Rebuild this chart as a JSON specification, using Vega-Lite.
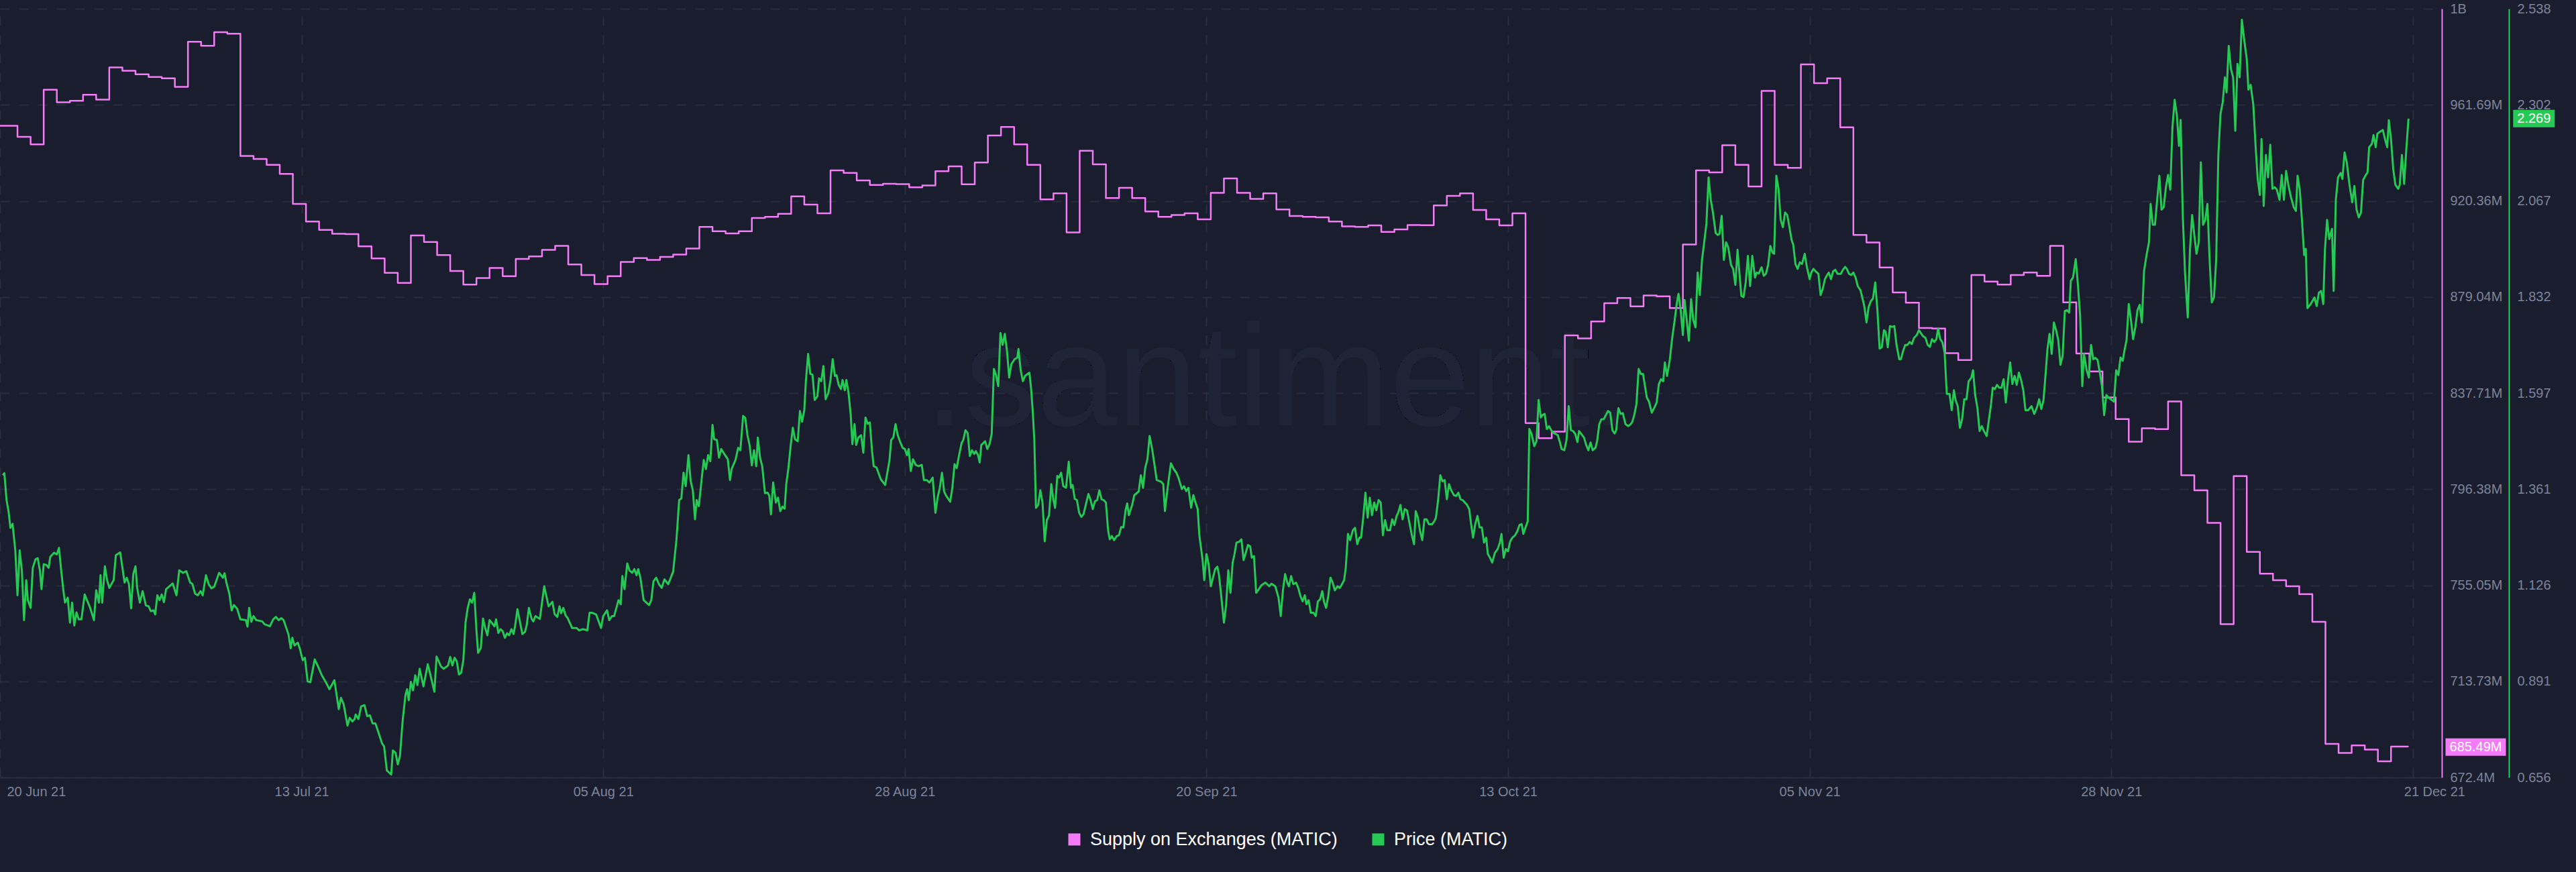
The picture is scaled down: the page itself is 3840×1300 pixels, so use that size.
{
"$schema": "https://vega.github.io/schema/vega-lite/v6.json",
"width": 3640,
"height": 1146,
"autosize": {"type": "none"},
"padding": {"left": 0, "top": 13, "right": 200, "bottom": 141},
"background": "#1a1d2d",
"config": {
  "view": {"stroke": null},
  "axis": {"labelFont": "Liberation Sans", "labelFontSize": 20, "labelColor": "#7b849b", "ticks": false, "title": null, "labelFlush": false, "labelOverlap": false, "labelBound": false}
},
"encoding": {
  "x": {
    "field": "t", "type": "temporal",
    "scale": {"domain": [{"year": 2021, "month": 6, "date": 20}, {"year": 2021, "month": 12, "date": 23, "hours": 5}]},
    "axis": {
      "values": [{"year":2021,"month":6,"date":20},{"year":2021,"month":7,"date":13},{"year":2021,"month":8,"date":5},{"year":2021,"month":8,"date":28},{"year":2021,"month":9,"date":20},{"year":2021,"month":10,"date":13},{"year":2021,"month":11,"date":5},{"year":2021,"month":11,"date":28},{"year":2021,"month":12,"date":21}],
      "format": "%d %b %y",
      "grid": true, "gridColor": "#2a2d40", "gridDash": [14, 14], "gridDashOffset": 17, "gridWidth": 2,
      "domainColor": "#2a2d3f", "domainWidth": 2,
      "labelPadding": 11,
      "labelAlign": {"condition": {"test": "month(datum.value) == 5", "value": "left"}, "value": "center"},
      "labelOffset": {"condition": [{"test": "month(datum.value) == 5", "value": 10}, {"test": "month(datum.value) == 11", "value": 32}], "value": 0}
    }
  }
},
"layer": [
  {
    "data": {"format": {"parse": {"t": "date:'%Y-%m-%d %H'"}}, "values": [
{"t":"2021-06-20 00","s":952.7},{"t":"2021-06-21 08","s":947.9},{"t":"2021-06-22 08","s":944.7},{"t":"2021-06-23 08","s":968.2},{"t":"2021-06-24 08","s":962.8},{"t":"2021-06-25 08","s":963.4},{"t":"2021-06-26 08","s":966.0},{"t":"2021-06-27 08","s":963.9},{"t":"2021-06-28 08","s":977.8},{"t":"2021-06-29 08","s":976.3},
{"t":"2021-06-30 08","s":974.8},{"t":"2021-07-01 08","s":973.7},{"t":"2021-07-02 08","s":973.1},{"t":"2021-07-03 08","s":969.4},{"t":"2021-07-04 08","s":988.8},{"t":"2021-07-05 08","s":987.1},{"t":"2021-07-06 08","s":992.9},{"t":"2021-07-07 08","s":992.3},{"t":"2021-07-08 08","s":939.7},{"t":"2021-07-09 08","s":938.4},
{"t":"2021-07-10 08","s":935.9},{"t":"2021-07-11 08","s":932.0},{"t":"2021-07-12 08","s":919.1},{"t":"2021-07-13 08","s":911.5},{"t":"2021-07-14 08","s":907.9},{"t":"2021-07-15 08","s":906.2},{"t":"2021-07-16 08","s":906.1},{"t":"2021-07-17 08","s":900.8},{"t":"2021-07-18 08","s":895.6},{"t":"2021-07-19 08","s":889.4},
{"t":"2021-07-20 08","s":885.1},{"t":"2021-07-21 08","s":905.5},{"t":"2021-07-22 08","s":902.7},{"t":"2021-07-23 08","s":897.1},{"t":"2021-07-24 08","s":890.2},{"t":"2021-07-25 08","s":884.4},{"t":"2021-07-26 08","s":887.2},{"t":"2021-07-27 08","s":891.5},{"t":"2021-07-28 08","s":888.0},{"t":"2021-07-29 08","s":895.4},
{"t":"2021-07-30 08","s":896.5},{"t":"2021-07-31 08","s":899.3},{"t":"2021-08-01 08","s":901.0},{"t":"2021-08-02 08","s":893.0},{"t":"2021-08-03 08","s":888.5},{"t":"2021-08-04 08","s":884.6},{"t":"2021-08-05 08","s":888.0},{"t":"2021-08-06 08","s":894.1},{"t":"2021-08-07 08","s":895.8},{"t":"2021-08-08 08","s":895.0},
{"t":"2021-08-09 08","s":896.3},{"t":"2021-08-10 08","s":897.3},{"t":"2021-08-11 08","s":899.9},{"t":"2021-08-12 08","s":909.2},{"t":"2021-08-13 08","s":907.3},{"t":"2021-08-14 08","s":906.4},{"t":"2021-08-15 08","s":907.3},{"t":"2021-08-16 08","s":913.0},{"t":"2021-08-17 08","s":913.5},{"t":"2021-08-18 08","s":914.8},
{"t":"2021-08-19 08","s":922.3},{"t":"2021-08-20 08","s":918.8},{"t":"2021-08-21 08","s":915.0},{"t":"2021-08-22 08","s":933.5},{"t":"2021-08-23 08","s":932.4},{"t":"2021-08-24 08","s":929.2},{"t":"2021-08-25 08","s":927.2},{"t":"2021-08-26 08","s":927.7},{"t":"2021-08-27 08","s":927.6},{"t":"2021-08-28 08","s":926.2},
{"t":"2021-08-29 08","s":927.0},{"t":"2021-08-30 08","s":933.1},{"t":"2021-08-31 08","s":935.2},{"t":"2021-09-01 08","s":927.5},{"t":"2021-09-02 08","s":936.9},{"t":"2021-09-03 08","s":948.5},{"t":"2021-09-04 08","s":952.2},{"t":"2021-09-05 08","s":944.7},{"t":"2021-09-06 08","s":935.9},{"t":"2021-09-07 08","s":921.0},
{"t":"2021-09-08 08","s":923.6},{"t":"2021-09-09 08","s":906.8},{"t":"2021-09-10 08","s":941.9},{"t":"2021-09-11 08","s":936.1},{"t":"2021-09-12 08","s":921.6},{"t":"2021-09-13 08","s":926.0},{"t":"2021-09-14 08","s":921.6},{"t":"2021-09-15 08","s":915.8},{"t":"2021-09-16 08","s":913.5},{"t":"2021-09-17 08","s":914.3},
{"t":"2021-09-18 08","s":915.0},{"t":"2021-09-19 08","s":912.4},{"t":"2021-09-20 08","s":923.8},{"t":"2021-09-21 08","s":930.0},{"t":"2021-09-22 08","s":923.8},{"t":"2021-09-23 08","s":921.2},{"t":"2021-09-24 08","s":923.6},{"t":"2021-09-25 08","s":916.7},{"t":"2021-09-26 08","s":913.9},{"t":"2021-09-27 08","s":913.5},
{"t":"2021-09-28 08","s":913.3},{"t":"2021-09-29 08","s":911.5},{"t":"2021-09-30 08","s":909.4},{"t":"2021-10-01 08","s":909.2},{"t":"2021-10-02 08","s":909.8},{"t":"2021-10-03 08","s":907.0},{"t":"2021-10-04 08","s":908.1},{"t":"2021-10-05 08","s":910.0},{"t":"2021-10-06 08","s":909.9},{"t":"2021-10-07 08","s":918.4},
{"t":"2021-10-08 08","s":922.5},{"t":"2021-10-09 08","s":923.6},{"t":"2021-10-10 08","s":916.5},{"t":"2021-10-11 08","s":912.4},{"t":"2021-10-12 08","s":909.8},{"t":"2021-10-13 08","s":915.0},{"t":"2021-10-14 08","s":824.8},{"t":"2021-10-15 08","s":818.3},{"t":"2021-10-16 08","s":821.1},{"t":"2021-10-17 08","s":862.5},
{"t":"2021-10-18 08","s":861.2},{"t":"2021-10-19 08","s":868.5},{"t":"2021-10-20 08","s":876.4},{"t":"2021-10-21 08","s":878.6},{"t":"2021-10-22 08","s":875.0},{"t":"2021-10-23 08","s":879.7},{"t":"2021-10-24 08","s":879.3},{"t":"2021-10-25 08","s":874.3},{"t":"2021-10-26 08","s":901.6},{"t":"2021-10-27 08","s":933.5},
{"t":"2021-10-28 08","s":932.6},{"t":"2021-10-29 08","s":944.3},{"t":"2021-10-30 08","s":935.9},{"t":"2021-10-31 08","s":926.6},{"t":"2021-11-01 08","s":967.7},{"t":"2021-11-02 08","s":935.9},{"t":"2021-11-03 08","s":934.6},{"t":"2021-11-04 08","s":979.1},{"t":"2021-11-05 08","s":971.0},{"t":"2021-11-06 08","s":973.1},
{"t":"2021-11-07 08","s":952.0},{"t":"2021-11-08 08","s":905.7},{"t":"2021-11-09 08","s":902.5},{"t":"2021-11-10 08","s":891.7},{"t":"2021-11-11 08","s":881.0},{"t":"2021-11-12 08","s":876.6},{"t":"2021-11-13 08","s":865.7},{"t":"2021-11-14 08","s":865.5},{"t":"2021-11-15 08","s":854.9},{"t":"2021-11-16 08","s":851.9},
{"t":"2021-11-17 08","s":888.5},{"t":"2021-11-18 08","s":885.7},{"t":"2021-11-19 08","s":884.4},{"t":"2021-11-20 08","s":888.5},{"t":"2021-11-21 08","s":889.6},{"t":"2021-11-22 08","s":888.1},{"t":"2021-11-23 08","s":901.0},{"t":"2021-11-24 08","s":876.7},{"t":"2021-11-25 08","s":854.7},{"t":"2021-11-26 08","s":847.0},
{"t":"2021-11-27 08","s":835.8},{"t":"2021-11-28 08","s":826.5},{"t":"2021-11-29 08","s":816.8},{"t":"2021-11-30 08","s":822.6},{"t":"2021-12-01 08","s":822.2},{"t":"2021-12-02 08","s":834.1},{"t":"2021-12-03 08","s":802.4},{"t":"2021-12-04 08","s":795.9},{"t":"2021-12-05 08","s":781.9},{"t":"2021-12-06 08","s":738.3},
{"t":"2021-12-07 08","s":802.0},{"t":"2021-12-08 08","s":769.4},{"t":"2021-12-09 08","s":760.0},{"t":"2021-12-10 08","s":757.2},{"t":"2021-12-11 08","s":754.6},{"t":"2021-12-12 08","s":751.2},{"t":"2021-12-13 08","s":739.3},{"t":"2021-12-14 08","s":686.8},{"t":"2021-12-15 08","s":682.9},{"t":"2021-12-16 08","s":686.2},
{"t":"2021-12-17 08","s":684.4},{"t":"2021-12-18 08","s":679.3},{"t":"2021-12-19 08","s":685.7},{"t":"2021-12-20 15","s":685.49}
    ]},
    "encoding": {
      "y": {
        "field": "s", "type": "quantitative",
        "scale": {"domain": [672.4, 1003.02], "nice": false, "zero": false},
        "axis": {
          "orient": "right",
          "values": [672.4, 713.73, 755.05, 796.38, 837.71, 879.04, 920.36, 961.69, 1003.02],
          "labelExpr": "datum.value >= 1000 ? '1B' : format(datum.value, '.2~f') + 'M'",
          "grid": true, "gridColor": "#2a2d40", "gridDash": [14, 14], "gridDashOffset": 14, "gridWidth": 2,
          "domainColor": "#f47bf7", "domainWidth": 2,
          "labelPadding": 12, "labelAlign": "left", "labelBaseline": "middle"
        }
      }
    },
    "layer": [
      {
        "mark": {"type": "text", "text": ".santiment.", "font": "Liberation Sans", "fontSize": 215, "color": "#1f2336", "align": "center", "baseline": "alphabetic"},
        "encoding": {"x": {"datum": {"year": 2021, "month": 9, "date": 25, "hours": 10}, "type": "temporal"}, "y": {"datum": 823.8, "type": "quantitative"}}
      },
      {
        "mark": {"type": "line", "interpolate": "step-after", "strokeWidth": 2.5, "strokeJoin": "round"},
        "encoding": {
          "color": {
            "datum": "Supply on Exchanges (MATIC)", "type": "nominal",
            "scale": {"domain": ["Supply on Exchanges (MATIC)", "Price (MATIC)"], "range": ["#f47bf7", "#26c953"]},
            "legend": {
              "orient": "none", "legendX": 1588, "legendY": 1225, "direction": "horizontal", "title": null,
              "symbolType": "square", "symbolSize": 81, "symbolStrokeWidth": 9,
              "labelFont": "Liberation Sans", "labelFontSize": 27, "labelColor": "#ffffff", "labelLimit": 1000,
              "labelOffset": 10, "columnPadding": 38, "padding": 0
            }
          }
        }
      },
      {
        "transform": [{"filter": "datum.t >= datetime(2021, 11, 20, 15)"}],
        "mark": {"type": "rect", "color": "#f47bf7", "xOffset": 56, "x2Offset": 146, "yOffset": -13, "y2Offset": 13},
        "encoding": {"x2": {"field": "t"}, "y2": {"field": "s"}}
      },
      {
        "transform": [{"filter": "datum.t >= datetime(2021, 11, 20, 15)"}, {"calculate": "format(datum.s, '.2f') + 'M'", "as": "lab"}],
        "mark": {"type": "text", "dx": 101, "color": "#ffffff", "font": "Liberation Sans", "fontSize": 20, "align": "center", "baseline": "middle"},
        "encoding": {"text": {"field": "lab"}}
      }
    ]
  },
  {
    "data": {"format": {"parse": {"t": "date:'%Y-%m-%d %H'"}}, "values": [
{"t":"2021-06-20 05","p":1.396},{"t":"2021-06-20 08","p":1.401},{"t":"2021-06-20 12","p":1.335},{"t":"2021-06-20 16","p":1.304},{"t":"2021-06-20 19","p":1.267},{"t":"2021-06-20 23","p":1.277},
{"t":"2021-06-21 04","p":1.212},{"t":"2021-06-21 08","p":1.102},{"t":"2021-06-21 12","p":1.212},{"t":"2021-06-21 16","p":1.163},{"t":"2021-06-21 20","p":1.041},
{"t":"2021-06-22 00","p":1.139},{"t":"2021-06-22 03","p":1.090},{"t":"2021-06-22 08","p":1.071},{"t":"2021-06-22 12","p":1.169},{"t":"2021-06-22 17","p":1.190},{"t":"2021-06-22 21","p":1.193},
{"t":"2021-06-23 01","p":1.163},{"t":"2021-06-23 04","p":1.117},{"t":"2021-06-23 08","p":1.178},{"t":"2021-06-23 13","p":1.176},{"t":"2021-06-23 17","p":1.169},{"t":"2021-06-23 20","p":1.196},
{"t":"2021-06-24 03","p":1.206},{"t":"2021-06-24 08","p":1.202},{"t":"2021-06-24 12","p":1.218},{"t":"2021-06-24 16","p":1.163},{"t":"2021-06-24 20","p":1.114},{"t":"2021-06-24 23","p":1.084},
{"t":"2021-06-25 04","p":1.096},{"t":"2021-06-25 08","p":1.035},{"t":"2021-06-25 12","p":1.084},{"t":"2021-06-25 16","p":1.028},{"t":"2021-06-25 20","p":1.060},
{"t":"2021-06-26 00","p":1.043},{"t":"2021-06-26 05","p":1.043},{"t":"2021-06-26 11","p":1.104},{"t":"2021-06-26 21","p":1.071},
{"t":"2021-06-27 04","p":1.041},{"t":"2021-06-27 08","p":1.114},{"t":"2021-06-27 13","p":1.084},{"t":"2021-06-27 16","p":1.151},{"t":"2021-06-27 19","p":1.084},
{"t":"2021-06-28 00","p":1.173},{"t":"2021-06-28 04","p":1.139},{"t":"2021-06-28 08","p":1.120},{"t":"2021-06-28 16","p":1.139},{"t":"2021-06-28 20","p":1.200},
{"t":"2021-06-29 04","p":1.207},{"t":"2021-06-29 12","p":1.133},{"t":"2021-06-29 16","p":1.145},{"t":"2021-06-29 20","p":1.129},
{"t":"2021-06-30 00","p":1.070},{"t":"2021-06-30 04","p":1.154},{"t":"2021-06-30 08","p":1.173},{"t":"2021-06-30 11","p":1.120},{"t":"2021-06-30 16","p":1.084},{"t":"2021-06-30 21","p":1.112},
{"t":"2021-07-01 03","p":1.077},{"t":"2021-07-01 08","p":1.075},{"t":"2021-07-01 12","p":1.063},{"t":"2021-07-01 17","p":1.065},{"t":"2021-07-01 20","p":1.055},
{"t":"2021-07-02 00","p":1.102},{"t":"2021-07-02 04","p":1.090},{"t":"2021-07-02 08","p":1.104},{"t":"2021-07-02 12","p":1.085},{"t":"2021-07-02 16","p":1.117},{"t":"2021-07-02 22","p":1.124},
{"t":"2021-07-03 04","p":1.131},{"t":"2021-07-03 11","p":1.102},{"t":"2021-07-03 16","p":1.163},{"t":"2021-07-03 23","p":1.157},
{"t":"2021-07-04 05","p":1.161},{"t":"2021-07-04 12","p":1.133},{"t":"2021-07-04 16","p":1.130},{"t":"2021-07-04 21","p":1.106},
{"t":"2021-07-05 02","p":1.102},{"t":"2021-07-05 07","p":1.112},{"t":"2021-07-05 11","p":1.102},{"t":"2021-07-05 17","p":1.151},{"t":"2021-07-05 22","p":1.129},
{"t":"2021-07-06 03","p":1.119},{"t":"2021-07-06 08","p":1.123},{"t":"2021-07-06 17","p":1.157},
{"t":"2021-07-07 00","p":1.145},{"t":"2021-07-07 03","p":1.156},{"t":"2021-07-07 06","p":1.135},{"t":"2021-07-07 12","p":1.104},{"t":"2021-07-07 16","p":1.065},{"t":"2021-07-07 20","p":1.078},
{"t":"2021-07-08 02","p":1.069},{"t":"2021-07-08 08","p":1.043},{"t":"2021-07-08 18","p":1.041},{"t":"2021-07-08 21","p":1.025},
{"t":"2021-07-09 00","p":1.071},{"t":"2021-07-09 04","p":1.037},{"t":"2021-07-09 08","p":1.051},{"t":"2021-07-09 13","p":1.041},
{"t":"2021-07-10 00","p":1.038},{"t":"2021-07-10 04","p":1.031},{"t":"2021-07-10 14","p":1.026},{"t":"2021-07-10 20","p":1.043},
{"t":"2021-07-11 01","p":1.049},{"t":"2021-07-11 06","p":1.041},{"t":"2021-07-11 11","p":1.046},{"t":"2021-07-11 15","p":1.041},
{"t":"2021-07-12 00","p":1.006},{"t":"2021-07-12 04","p":0.972},{"t":"2021-07-12 07","p":0.998},{"t":"2021-07-12 11","p":0.979},{"t":"2021-07-12 17","p":0.986},{"t":"2021-07-12 21","p":0.970},
{"t":"2021-07-13 02","p":0.943},{"t":"2021-07-13 06","p":0.949},{"t":"2021-07-13 11","p":0.891},{"t":"2021-07-13 16","p":0.889},
{"t":"2021-07-14 00","p":0.945},{"t":"2021-07-14 06","p":0.928},{"t":"2021-07-14 13","p":0.906},{"t":"2021-07-14 20","p":0.890},
{"t":"2021-07-15 03","p":0.872},{"t":"2021-07-15 12","p":0.894},{"t":"2021-07-15 20","p":0.823},
{"t":"2021-07-16 00","p":0.851},{"t":"2021-07-16 05","p":0.835},{"t":"2021-07-16 12","p":0.783},{"t":"2021-07-16 16","p":0.802},{"t":"2021-07-16 21","p":0.793},
{"t":"2021-07-17 01","p":0.799},{"t":"2021-07-17 03","p":0.810},{"t":"2021-07-17 08","p":0.799},{"t":"2021-07-17 13","p":0.830},{"t":"2021-07-17 19","p":0.833},
{"t":"2021-07-18 00","p":0.806},{"t":"2021-07-18 05","p":0.808},{"t":"2021-07-18 10","p":0.788},{"t":"2021-07-18 15","p":0.788},{"t":"2021-07-18 20","p":0.769},
{"t":"2021-07-19 03","p":0.740},{"t":"2021-07-19 07","p":0.732},{"t":"2021-07-19 12","p":0.673},{"t":"2021-07-19 20","p":0.663},{"t":"2021-07-19 23","p":0.722},
{"t":"2021-07-20 04","p":0.716},{"t":"2021-07-20 08","p":0.688},{"t":"2021-07-20 12","p":0.708},{"t":"2021-07-20 17","p":0.796},{"t":"2021-07-20 22","p":0.857},
{"t":"2021-07-21 01","p":0.872},{"t":"2021-07-21 04","p":0.845},{"t":"2021-07-21 08","p":0.890},{"t":"2021-07-21 12","p":0.869},{"t":"2021-07-21 16","p":0.906},{"t":"2021-07-21 20","p":0.882},
{"t":"2021-07-22 00","p":0.922},{"t":"2021-07-22 07","p":0.879},{"t":"2021-07-22 15","p":0.933},
{"t":"2021-07-23 03","p":0.866},{"t":"2021-07-23 07","p":0.952},{"t":"2021-07-23 15","p":0.928},{"t":"2021-07-23 20","p":0.922},
{"t":"2021-07-24 04","p":0.930},{"t":"2021-07-24 08","p":0.951},{"t":"2021-07-24 12","p":0.930},{"t":"2021-07-24 16","p":0.949},{"t":"2021-07-24 20","p":0.940},
{"t":"2021-07-25 00","p":0.908},{"t":"2021-07-25 04","p":0.912},{"t":"2021-07-25 08","p":0.943},{"t":"2021-07-25 12","p":1.035},{"t":"2021-07-25 16","p":1.071},{"t":"2021-07-25 20","p":1.092},
{"t":"2021-07-26 00","p":1.084},{"t":"2021-07-26 04","p":1.108},{"t":"2021-07-26 08","p":1.016},{"t":"2021-07-26 11","p":0.961},{"t":"2021-07-26 16","p":0.973},{"t":"2021-07-26 20","p":1.045},
{"t":"2021-07-27 00","p":1.022},{"t":"2021-07-27 04","p":1.004},{"t":"2021-07-27 08","p":1.041},{"t":"2021-07-27 17","p":1.026},{"t":"2021-07-27 20","p":1.043},
{"t":"2021-07-28 00","p":1.010},{"t":"2021-07-28 04","p":1.019},{"t":"2021-07-28 08","p":1.014},{"t":"2021-07-28 12","p":0.998},{"t":"2021-07-28 16","p":1.009},{"t":"2021-07-28 20","p":1.004},
{"t":"2021-07-29 00","p":1.019},{"t":"2021-07-29 04","p":1.007},{"t":"2021-07-29 07","p":1.029},{"t":"2021-07-29 11","p":1.068},{"t":"2021-07-29 20","p":1.007},
{"t":"2021-07-30 01","p":1.013},{"t":"2021-07-30 04","p":1.029},{"t":"2021-07-30 08","p":1.071},{"t":"2021-07-30 13","p":1.044},{"t":"2021-07-30 16","p":1.038},{"t":"2021-07-30 20","p":1.051},
{"t":"2021-07-31 04","p":1.044},{"t":"2021-07-31 12","p":1.124},{"t":"2021-07-31 20","p":1.075},
{"t":"2021-08-01 03","p":1.086},{"t":"2021-08-01 07","p":1.056},{"t":"2021-08-01 12","p":1.049},{"t":"2021-08-01 16","p":1.075},{"t":"2021-08-01 19","p":1.058},{"t":"2021-08-01 23","p":1.071},
{"t":"2021-08-02 03","p":1.053},{"t":"2021-08-02 07","p":1.046},{"t":"2021-08-02 15","p":1.022},{"t":"2021-08-02 23","p":1.022},
{"t":"2021-08-03 04","p":1.016},{"t":"2021-08-03 11","p":1.019},{"t":"2021-08-03 19","p":1.016},{"t":"2021-08-03 23","p":1.059},
{"t":"2021-08-04 04","p":1.059},{"t":"2021-08-04 11","p":1.055},{"t":"2021-08-04 20","p":1.022},
{"t":"2021-08-05 00","p":1.051},{"t":"2021-08-05 07","p":1.065},{"t":"2021-08-05 11","p":1.041},{"t":"2021-08-05 16","p":1.051},{"t":"2021-08-05 20","p":1.051},
{"t":"2021-08-06 04","p":1.090},{"t":"2021-08-06 08","p":1.080},{"t":"2021-08-06 11","p":1.149},{"t":"2021-08-06 15","p":1.117},{"t":"2021-08-06 20","p":1.180},
{"t":"2021-08-07 00","p":1.163},{"t":"2021-08-07 05","p":1.157},{"t":"2021-08-07 09","p":1.166},{"t":"2021-08-07 13","p":1.151},{"t":"2021-08-07 16","p":1.166},{"t":"2021-08-07 20","p":1.145},
{"t":"2021-08-08 02","p":1.090},{"t":"2021-08-08 12","p":1.078},{"t":"2021-08-08 16","p":1.090},{"t":"2021-08-08 20","p":1.136},
{"t":"2021-08-09 01","p":1.145},{"t":"2021-08-09 06","p":1.129},{"t":"2021-08-09 11","p":1.120},{"t":"2021-08-09 16","p":1.141},{"t":"2021-08-09 23","p":1.129},
{"t":"2021-08-10 08","p":1.160},{"t":"2021-08-10 14","p":1.237},{"t":"2021-08-10 19","p":1.335},{"t":"2021-08-10 23","p":1.339},
{"t":"2021-08-11 03","p":1.402},{"t":"2021-08-11 07","p":1.369},{"t":"2021-08-11 12","p":1.445},{"t":"2021-08-11 16","p":1.382},{"t":"2021-08-11 20","p":1.359},
{"t":"2021-08-12 00","p":1.288},{"t":"2021-08-12 03","p":1.335},{"t":"2021-08-12 07","p":1.320},{"t":"2021-08-12 12","p":1.384},{"t":"2021-08-12 16","p":1.433},{"t":"2021-08-12 20","p":1.411},
{"t":"2021-08-13 00","p":1.445},{"t":"2021-08-13 04","p":1.430},{"t":"2021-08-13 08","p":1.519},{"t":"2021-08-13 11","p":1.484},{"t":"2021-08-13 16","p":1.482},{"t":"2021-08-13 20","p":1.439},
{"t":"2021-08-14 00","p":1.460},{"t":"2021-08-14 07","p":1.445},{"t":"2021-08-14 12","p":1.435},{"t":"2021-08-14 16","p":1.384},{"t":"2021-08-14 19","p":1.411},
{"t":"2021-08-15 02","p":1.433},{"t":"2021-08-15 07","p":1.463},{"t":"2021-08-15 11","p":1.457},{"t":"2021-08-15 16","p":1.541},{"t":"2021-08-15 20","p":1.536},
{"t":"2021-08-16 00","p":1.494},{"t":"2021-08-16 04","p":1.469},{"t":"2021-08-16 08","p":1.420},{"t":"2021-08-16 12","p":1.457},{"t":"2021-08-16 16","p":1.418},{"t":"2021-08-16 19","p":1.488},{"t":"2021-08-16 23","p":1.439},
{"t":"2021-08-17 03","p":1.418},{"t":"2021-08-17 08","p":1.352},{"t":"2021-08-17 13","p":1.353},{"t":"2021-08-17 16","p":1.345},{"t":"2021-08-17 19","p":1.300},{"t":"2021-08-17 23","p":1.378},
{"t":"2021-08-18 04","p":1.329},{"t":"2021-08-18 08","p":1.341},{"t":"2021-08-18 12","p":1.308},{"t":"2021-08-18 16","p":1.319},{"t":"2021-08-18 20","p":1.314},{"t":"2021-08-18 23","p":1.374},
{"t":"2021-08-19 03","p":1.414},{"t":"2021-08-19 07","p":1.467},{"t":"2021-08-19 11","p":1.512},{"t":"2021-08-19 15","p":1.484},{"t":"2021-08-19 20","p":1.479},
{"t":"2021-08-20 00","p":1.553},{"t":"2021-08-20 04","p":1.527},{"t":"2021-08-20 08","p":1.555},{"t":"2021-08-20 11","p":1.628},{"t":"2021-08-20 15","p":1.693},{"t":"2021-08-20 19","p":1.644},{"t":"2021-08-20 23","p":1.642},
{"t":"2021-08-21 03","p":1.580},{"t":"2021-08-21 08","p":1.589},{"t":"2021-08-21 11","p":1.633},{"t":"2021-08-21 15","p":1.626},{"t":"2021-08-21 19","p":1.663},{"t":"2021-08-21 23","p":1.582},
{"t":"2021-08-22 04","p":1.597},{"t":"2021-08-22 08","p":1.629},{"t":"2021-08-22 12","p":1.680},{"t":"2021-08-22 16","p":1.639},{"t":"2021-08-22 19","p":1.641},{"t":"2021-08-22 23","p":1.617},
{"t":"2021-08-23 03","p":1.607},{"t":"2021-08-23 06","p":1.629},{"t":"2021-08-23 10","p":1.604},{"t":"2021-08-23 13","p":1.629},{"t":"2021-08-23 17","p":1.598},{"t":"2021-08-23 21","p":1.543},
{"t":"2021-08-24 00","p":1.472},{"t":"2021-08-24 04","p":1.521},{"t":"2021-08-24 07","p":1.470},{"t":"2021-08-24 11","p":1.488},{"t":"2021-08-24 16","p":1.494},{"t":"2021-08-24 20","p":1.451},
{"t":"2021-08-25 00","p":1.537},{"t":"2021-08-25 04","p":1.522},{"t":"2021-08-25 08","p":1.525},{"t":"2021-08-25 12","p":1.455},{"t":"2021-08-25 15","p":1.418},{"t":"2021-08-25 20","p":1.415},
{"t":"2021-08-26 04","p":1.386},{"t":"2021-08-26 12","p":1.372},{"t":"2021-08-26 16","p":1.402},{"t":"2021-08-26 20","p":1.433},{"t":"2021-08-26 23","p":1.482},
{"t":"2021-08-27 03","p":1.488},{"t":"2021-08-27 07","p":1.521},{"t":"2021-08-27 11","p":1.494},{"t":"2021-08-27 15","p":1.479},{"t":"2021-08-27 20","p":1.463},
{"t":"2021-08-28 00","p":1.460},{"t":"2021-08-28 04","p":1.445},{"t":"2021-08-28 07","p":1.460},{"t":"2021-08-28 11","p":1.406},{"t":"2021-08-28 15","p":1.435},{"t":"2021-08-28 20","p":1.421},
{"t":"2021-08-29 01","p":1.418},{"t":"2021-08-29 07","p":1.421},{"t":"2021-08-29 11","p":1.384},{"t":"2021-08-29 16","p":1.384},{"t":"2021-08-29 21","p":1.378},
{"t":"2021-08-30 03","p":1.390},{"t":"2021-08-30 08","p":1.304},{"t":"2021-08-30 12","p":1.341},{"t":"2021-08-30 16","p":1.365},{"t":"2021-08-30 20","p":1.402},
{"t":"2021-08-31 00","p":1.356},{"t":"2021-08-31 03","p":1.347},{"t":"2021-08-31 11","p":1.331},{"t":"2021-08-31 15","p":1.365},{"t":"2021-08-31 19","p":1.423},{"t":"2021-08-31 23","p":1.413},
{"t":"2021-09-01 03","p":1.443},{"t":"2021-09-01 08","p":1.475},{"t":"2021-09-01 11","p":1.482},{"t":"2021-09-01 15","p":1.506},{"t":"2021-09-01 19","p":1.499},{"t":"2021-09-01 23","p":1.443},
{"t":"2021-09-02 03","p":1.457},{"t":"2021-09-02 07","p":1.448},{"t":"2021-09-02 10","p":1.455},{"t":"2021-09-02 14","p":1.445},{"t":"2021-09-02 17","p":1.427},{"t":"2021-09-02 20","p":1.470},
{"t":"2021-09-03 03","p":1.479},{"t":"2021-09-03 07","p":1.460},{"t":"2021-09-03 11","p":1.472},{"t":"2021-09-03 15","p":1.497},{"t":"2021-09-03 19","p":1.656},{"t":"2021-09-03 23","p":1.641},
{"t":"2021-09-04 03","p":1.614},{"t":"2021-09-04 07","p":1.744},{"t":"2021-09-04 11","p":1.715},{"t":"2021-09-04 15","p":1.742},{"t":"2021-09-04 19","p":1.700},{"t":"2021-09-04 23","p":1.635},
{"t":"2021-09-05 03","p":1.668},{"t":"2021-09-05 09","p":1.680},{"t":"2021-09-05 14","p":1.684},{"t":"2021-09-05 16","p":1.705},{"t":"2021-09-05 20","p":1.654},
{"t":"2021-09-06 00","p":1.626},{"t":"2021-09-06 04","p":1.639},{"t":"2021-09-06 12","p":1.647},{"t":"2021-09-06 15","p":1.610},{"t":"2021-09-06 18","p":1.555},{"t":"2021-09-06 21","p":1.482},
{"t":"2021-09-07 00","p":1.316},{"t":"2021-09-07 04","p":1.323},{"t":"2021-09-07 08","p":1.359},{"t":"2021-09-07 12","p":1.329},{"t":"2021-09-07 16","p":1.234},{"t":"2021-09-07 20","p":1.286},
{"t":"2021-09-08 00","p":1.298},{"t":"2021-09-08 04","p":1.374},{"t":"2021-09-08 08","p":1.335},{"t":"2021-09-08 11","p":1.316},{"t":"2021-09-08 15","p":1.394},{"t":"2021-09-08 18","p":1.390},{"t":"2021-09-08 22","p":1.402},
{"t":"2021-09-09 02","p":1.369},{"t":"2021-09-09 07","p":1.365},{"t":"2021-09-09 12","p":1.429},{"t":"2021-09-09 16","p":1.365},{"t":"2021-09-09 19","p":1.372},{"t":"2021-09-09 23","p":1.338},
{"t":"2021-09-10 03","p":1.335},{"t":"2021-09-10 07","p":1.304},{"t":"2021-09-10 11","p":1.294},{"t":"2021-09-10 15","p":1.300},
{"t":"2021-09-11 00","p":1.350},{"t":"2021-09-11 04","p":1.335},{"t":"2021-09-11 08","p":1.313},{"t":"2021-09-11 12","p":1.332},{"t":"2021-09-11 16","p":1.335},{"t":"2021-09-11 20","p":1.359},
{"t":"2021-09-12 00","p":1.337},{"t":"2021-09-12 04","p":1.335},{"t":"2021-09-12 08","p":1.329},{"t":"2021-09-12 12","p":1.261},{"t":"2021-09-12 15","p":1.239},{"t":"2021-09-12 19","p":1.247},{"t":"2021-09-12 23","p":1.237},
{"t":"2021-09-13 04","p":1.247},{"t":"2021-09-13 08","p":1.249},{"t":"2021-09-13 12","p":1.269},{"t":"2021-09-13 16","p":1.268},{"t":"2021-09-13 20","p":1.310},{"t":"2021-09-13 23","p":1.327},
{"t":"2021-09-14 02","p":1.298},{"t":"2021-09-14 08","p":1.323},{"t":"2021-09-14 12","p":1.347},{"t":"2021-09-14 20","p":1.356},
{"t":"2021-09-15 00","p":1.396},{"t":"2021-09-15 04","p":1.365},{"t":"2021-09-15 08","p":1.414},{"t":"2021-09-15 12","p":1.435},{"t":"2021-09-15 16","p":1.492},{"t":"2021-09-15 21","p":1.457},
{"t":"2021-09-16 01","p":1.421},{"t":"2021-09-16 05","p":1.384},{"t":"2021-09-16 13","p":1.380},{"t":"2021-09-16 17","p":1.374},{"t":"2021-09-16 20","p":1.308},
{"t":"2021-09-17 01","p":1.365},{"t":"2021-09-17 07","p":1.425},{"t":"2021-09-17 12","p":1.411},{"t":"2021-09-17 17","p":1.402},{"t":"2021-09-17 21","p":1.389},
{"t":"2021-09-18 03","p":1.362},{"t":"2021-09-18 07","p":1.369},{"t":"2021-09-18 11","p":1.357},{"t":"2021-09-18 15","p":1.365},{"t":"2021-09-18 20","p":1.316},
{"t":"2021-09-19 00","p":1.347},{"t":"2021-09-19 04","p":1.329},{"t":"2021-09-19 08","p":1.313},{"t":"2021-09-19 11","p":1.249},{"t":"2021-09-19 17","p":1.188},{"t":"2021-09-19 20","p":1.139},
{"t":"2021-09-20 00","p":1.203},{"t":"2021-09-20 04","p":1.178},{"t":"2021-09-20 08","p":1.124},{"t":"2021-09-20 16","p":1.166},{"t":"2021-09-20 20","p":1.172},{"t":"2021-09-20 23","p":1.151},
{"t":"2021-09-21 02","p":1.114},{"t":"2021-09-21 08","p":1.035},{"t":"2021-09-21 12","p":1.078},{"t":"2021-09-21 16","p":1.163},{"t":"2021-09-21 20","p":1.108},
{"t":"2021-09-22 00","p":1.182},{"t":"2021-09-22 03","p":1.200},{"t":"2021-09-22 07","p":1.231},{"t":"2021-09-22 12","p":1.233},{"t":"2021-09-22 16","p":1.239},{"t":"2021-09-22 20","p":1.188},
{"t":"2021-09-23 00","p":1.206},{"t":"2021-09-23 04","p":1.225},{"t":"2021-09-23 08","p":1.222},{"t":"2021-09-23 11","p":1.194},{"t":"2021-09-23 15","p":1.198},{"t":"2021-09-23 19","p":1.108},
{"t":"2021-09-24 00","p":1.117},{"t":"2021-09-24 05","p":1.127},{"t":"2021-09-24 12","p":1.133},{"t":"2021-09-24 19","p":1.124},{"t":"2021-09-24 23","p":1.130},
{"t":"2021-09-25 06","p":1.124},{"t":"2021-09-25 12","p":1.096},{"t":"2021-09-25 16","p":1.051},{"t":"2021-09-25 20","p":1.114},
{"t":"2021-09-26 00","p":1.154},{"t":"2021-09-26 04","p":1.133},{"t":"2021-09-26 07","p":1.124},{"t":"2021-09-26 11","p":1.149},{"t":"2021-09-26 15","p":1.129},{"t":"2021-09-26 20","p":1.133},
{"t":"2021-09-27 00","p":1.120},{"t":"2021-09-27 04","p":1.100},{"t":"2021-09-27 08","p":1.087},{"t":"2021-09-27 12","p":1.102},{"t":"2021-09-27 15","p":1.080},{"t":"2021-09-27 19","p":1.090},{"t":"2021-09-27 23","p":1.059},
{"t":"2021-09-28 04","p":1.059},{"t":"2021-09-28 08","p":1.051},{"t":"2021-09-28 12","p":1.087},{"t":"2021-09-28 16","p":1.092},{"t":"2021-09-28 20","p":1.112},{"t":"2021-09-28 23","p":1.087},
{"t":"2021-09-29 03","p":1.071},{"t":"2021-09-29 07","p":1.100},{"t":"2021-09-29 11","p":1.145},{"t":"2021-09-29 15","p":1.133},{"t":"2021-09-29 19","p":1.114},
{"t":"2021-09-30 00","p":1.124},{"t":"2021-09-30 04","p":1.120},{"t":"2021-09-30 08","p":1.129},{"t":"2021-09-30 12","p":1.139},{"t":"2021-09-30 15","p":1.169},{"t":"2021-09-30 19","p":1.252},{"t":"2021-09-30 23","p":1.237},
{"t":"2021-10-01 04","p":1.261},{"t":"2021-10-01 08","p":1.267},{"t":"2021-10-01 12","p":1.227},{"t":"2021-10-01 16","p":1.243},{"t":"2021-10-01 19","p":1.243},{"t":"2021-10-01 23","p":1.292},
{"t":"2021-10-02 03","p":1.353},{"t":"2021-10-02 07","p":1.292},{"t":"2021-10-02 11","p":1.341},{"t":"2021-10-02 15","p":1.298},{"t":"2021-10-02 19","p":1.329},{"t":"2021-10-02 23","p":1.310},
{"t":"2021-10-03 03","p":1.335},{"t":"2021-10-03 07","p":1.329},{"t":"2021-10-03 11","p":1.249},{"t":"2021-10-03 15","p":1.286},{"t":"2021-10-03 19","p":1.261},
{"t":"2021-10-04 00","p":1.261},{"t":"2021-10-04 04","p":1.288},{"t":"2021-10-04 08","p":1.274},{"t":"2021-10-04 12","p":1.296},{"t":"2021-10-04 15","p":1.304},{"t":"2021-10-04 19","p":1.323},{"t":"2021-10-04 23","p":1.288},
{"t":"2021-10-05 03","p":1.313},{"t":"2021-10-05 07","p":1.310},{"t":"2021-10-05 11","p":1.283},{"t":"2021-10-05 16","p":1.249},{"t":"2021-10-05 20","p":1.227},{"t":"2021-10-05 23","p":1.308},
{"t":"2021-10-06 03","p":1.292},{"t":"2021-10-06 07","p":1.259},{"t":"2021-10-06 11","p":1.237},{"t":"2021-10-06 15","p":1.288},{"t":"2021-10-06 19","p":1.288},{"t":"2021-10-06 23","p":1.276},
{"t":"2021-10-07 05","p":1.276},{"t":"2021-10-07 09","p":1.283},{"t":"2021-10-07 12","p":1.292},{"t":"2021-10-07 16","p":1.335},{"t":"2021-10-07 20","p":1.396},
{"t":"2021-10-08 00","p":1.381},{"t":"2021-10-08 04","p":1.384},{"t":"2021-10-08 08","p":1.337},{"t":"2021-10-08 12","p":1.374},{"t":"2021-10-08 16","p":1.359},{"t":"2021-10-08 21","p":1.347},
{"t":"2021-10-09 01","p":1.345},{"t":"2021-10-09 05","p":1.353},{"t":"2021-10-09 09","p":1.337},{"t":"2021-10-09 13","p":1.335},{"t":"2021-10-09 17","p":1.329},{"t":"2021-10-09 21","p":1.323},
{"t":"2021-10-10 01","p":1.313},{"t":"2021-10-10 04","p":1.280},{"t":"2021-10-10 08","p":1.243},{"t":"2021-10-10 12","p":1.276},{"t":"2021-10-10 16","p":1.296},{"t":"2021-10-10 20","p":1.268},
{"t":"2021-10-11 00","p":1.268},{"t":"2021-10-11 04","p":1.231},{"t":"2021-10-11 08","p":1.243},{"t":"2021-10-11 11","p":1.203},{"t":"2021-10-11 15","p":1.194},{"t":"2021-10-11 19","p":1.182},
{"t":"2021-10-12 00","p":1.206},{"t":"2021-10-12 05","p":1.215},{"t":"2021-10-12 09","p":1.231},{"t":"2021-10-12 12","p":1.252},{"t":"2021-10-12 16","p":1.194},{"t":"2021-10-12 20","p":1.215},
{"t":"2021-10-13 00","p":1.210},{"t":"2021-10-13 04","p":1.234},{"t":"2021-10-13 08","p":1.243},{"t":"2021-10-13 13","p":1.249},{"t":"2021-10-13 17","p":1.259},{"t":"2021-10-13 21","p":1.274},
{"t":"2021-10-14 01","p":1.276},{"t":"2021-10-14 04","p":1.252},{"t":"2021-10-14 07","p":1.264},{"t":"2021-10-14 12","p":1.283},{"t":"2021-10-14 15","p":1.509},{"t":"2021-10-14 19","p":1.497},
{"t":"2021-10-15 00","p":1.467},{"t":"2021-10-15 04","p":1.479},{"t":"2021-10-15 08","p":1.580},{"t":"2021-10-15 12","p":1.537},{"t":"2021-10-15 15","p":1.543},{"t":"2021-10-15 19","p":1.546},{"t":"2021-10-15 23","p":1.509},
{"t":"2021-10-16 03","p":1.516},{"t":"2021-10-16 07","p":1.506},{"t":"2021-10-16 11","p":1.499},{"t":"2021-10-16 15","p":1.497},{"t":"2021-10-16 19","p":1.494},{"t":"2021-10-16 23","p":1.476},
{"t":"2021-10-17 02","p":1.460},{"t":"2021-10-17 07","p":1.457},{"t":"2021-10-17 11","p":1.482},{"t":"2021-10-17 15","p":1.565},{"t":"2021-10-17 19","p":1.506},{"t":"2021-10-17 23","p":1.504},
{"t":"2021-10-18 03","p":1.497},{"t":"2021-10-18 07","p":1.477},{"t":"2021-10-18 10","p":1.504},{"t":"2021-10-18 14","p":1.497},{"t":"2021-10-18 19","p":1.488},{"t":"2021-10-18 23","p":1.470},
{"t":"2021-10-19 03","p":1.457},{"t":"2021-10-19 07","p":1.476},{"t":"2021-10-19 11","p":1.457},{"t":"2021-10-19 16","p":1.463},{"t":"2021-10-19 19","p":1.479},{"t":"2021-10-19 23","p":1.521},
{"t":"2021-10-20 03","p":1.533},{"t":"2021-10-20 07","p":1.533},{"t":"2021-10-20 11","p":1.543},{"t":"2021-10-20 15","p":1.553},{"t":"2021-10-20 19","p":1.549},{"t":"2021-10-20 23","p":1.506},
{"t":"2021-10-21 03","p":1.498},{"t":"2021-10-21 06","p":1.506},{"t":"2021-10-21 10","p":1.560},{"t":"2021-10-21 14","p":1.546},{"t":"2021-10-21 18","p":1.548},{"t":"2021-10-21 23","p":1.521},
{"t":"2021-10-22 04","p":1.516},{"t":"2021-10-22 07","p":1.519},{"t":"2021-10-22 11","p":1.525},{"t":"2021-10-22 15","p":1.543},{"t":"2021-10-22 19","p":1.570},{"t":"2021-10-22 23","p":1.656},
{"t":"2021-10-23 03","p":1.644},{"t":"2021-10-23 07","p":1.644},{"t":"2021-10-23 11","p":1.611},{"t":"2021-10-23 14","p":1.586},{"t":"2021-10-23 18","p":1.576},{"t":"2021-10-23 23","p":1.549},
{"t":"2021-10-24 04","p":1.562},{"t":"2021-10-24 08","p":1.574},{"t":"2021-10-24 12","p":1.619},{"t":"2021-10-24 16","p":1.631},{"t":"2021-10-24 20","p":1.626},{"t":"2021-10-24 23","p":1.672},
{"t":"2021-10-25 03","p":1.639},{"t":"2021-10-25 08","p":1.678},{"t":"2021-10-25 12","p":1.727},{"t":"2021-10-25 17","p":1.776},{"t":"2021-10-25 21","p":1.818},
{"t":"2021-10-26 00","p":1.840},{"t":"2021-10-26 04","p":1.800},{"t":"2021-10-26 08","p":1.739},{"t":"2021-10-26 11","p":1.825},{"t":"2021-10-26 15","p":1.776},{"t":"2021-10-26 19","p":1.725},{"t":"2021-10-26 23","p":1.827},
{"t":"2021-10-27 03","p":1.776},{"t":"2021-10-27 07","p":1.758},{"t":"2021-10-27 11","p":1.892},{"t":"2021-10-27 15","p":1.837},{"t":"2021-10-27 19","p":1.923},{"t":"2021-10-27 23","p":1.966},
{"t":"2021-10-28 03","p":2.011},{"t":"2021-10-28 07","p":2.125},{"t":"2021-10-28 11","p":2.070},{"t":"2021-10-28 15","p":2.039},{"t":"2021-10-28 20","p":1.989},
{"t":"2021-10-29 00","p":1.984},{"t":"2021-10-29 03","p":1.987},{"t":"2021-10-29 07","p":2.031},{"t":"2021-10-29 11","p":1.923},{"t":"2021-10-29 15","p":1.966},{"t":"2021-10-29 19","p":1.954},
{"t":"2021-10-30 00","p":1.911},{"t":"2021-10-30 04","p":1.901},{"t":"2021-10-30 08","p":1.862},{"t":"2021-10-30 12","p":1.948},{"t":"2021-10-30 15","p":1.898},{"t":"2021-10-30 19","p":1.835},{"t":"2021-10-30 23","p":1.832},
{"t":"2021-10-31 03","p":1.868},{"t":"2021-10-31 07","p":1.933},{"t":"2021-10-31 11","p":1.859},{"t":"2021-10-31 15","p":1.933},{"t":"2021-10-31 20","p":1.880},{"t":"2021-10-31 23","p":1.892},
{"t":"2021-11-01 03","p":1.890},{"t":"2021-11-01 08","p":1.905},{"t":"2021-11-01 12","p":1.884},{"t":"2021-11-01 16","p":1.889},{"t":"2021-11-01 20","p":1.911},
{"t":"2021-11-02 00","p":1.957},{"t":"2021-11-02 04","p":1.941},{"t":"2021-11-02 07","p":1.938},{"t":"2021-11-02 11","p":2.129},{"t":"2021-11-02 15","p":2.097},{"t":"2021-11-02 19","p":2.021},{"t":"2021-11-02 23","p":2.003},
{"t":"2021-11-03 03","p":2.039},{"t":"2021-11-03 07","p":2.033},{"t":"2021-11-03 11","p":2.003},{"t":"2021-11-03 15","p":1.972},{"t":"2021-11-03 18","p":1.960},{"t":"2021-11-03 22","p":1.913},
{"t":"2021-11-04 02","p":1.901},{"t":"2021-11-04 06","p":1.917},{"t":"2021-11-04 10","p":1.913},{"t":"2021-11-04 15","p":1.938},{"t":"2021-11-04 19","p":1.905},
{"t":"2021-11-05 00","p":1.876},{"t":"2021-11-05 03","p":1.892},{"t":"2021-11-05 07","p":1.901},{"t":"2021-11-05 11","p":1.895},{"t":"2021-11-05 16","p":1.889},{"t":"2021-11-05 20","p":1.837},
{"t":"2021-11-06 00","p":1.852},{"t":"2021-11-06 04","p":1.876},{"t":"2021-11-06 08","p":1.886},{"t":"2021-11-06 11","p":1.892},{"t":"2021-11-06 15","p":1.876},{"t":"2021-11-06 19","p":1.895},{"t":"2021-11-06 23","p":1.899},
{"t":"2021-11-07 03","p":1.889},{"t":"2021-11-07 09","p":1.889},{"t":"2021-11-07 13","p":1.899},{"t":"2021-11-07 17","p":1.906},{"t":"2021-11-07 20","p":1.901},
{"t":"2021-11-08 00","p":1.889},{"t":"2021-11-08 04","p":1.886},{"t":"2021-11-08 08","p":1.892},{"t":"2021-11-08 12","p":1.880},{"t":"2021-11-08 16","p":1.859},{"t":"2021-11-08 21","p":1.849},
{"t":"2021-11-09 01","p":1.827},{"t":"2021-11-09 04","p":1.810},{"t":"2021-11-09 08","p":1.770},{"t":"2021-11-09 12","p":1.808},{"t":"2021-11-09 16","p":1.822},{"t":"2021-11-09 20","p":1.829},
{"t":"2021-11-10 00","p":1.868},{"t":"2021-11-10 04","p":1.800},{"t":"2021-11-10 08","p":1.706},{"t":"2021-11-10 12","p":1.709},{"t":"2021-11-10 16","p":1.751},{"t":"2021-11-10 19","p":1.747},{"t":"2021-11-10 23","p":1.709},
{"t":"2021-11-11 03","p":1.761},{"t":"2021-11-11 07","p":1.759},{"t":"2021-11-11 11","p":1.761},{"t":"2021-11-11 15","p":1.715},{"t":"2021-11-11 20","p":1.680},{"t":"2021-11-11 23","p":1.680},
{"t":"2021-11-12 03","p":1.700},{"t":"2021-11-12 07","p":1.715},{"t":"2021-11-12 11","p":1.715},{"t":"2021-11-12 15","p":1.722},{"t":"2021-11-12 19","p":1.717},{"t":"2021-11-12 23","p":1.732},
{"t":"2021-11-13 04","p":1.739},{"t":"2021-11-13 08","p":1.751},{"t":"2021-11-13 11","p":1.745},{"t":"2021-11-13 15","p":1.737},{"t":"2021-11-13 20","p":1.732},
{"t":"2021-11-14 00","p":1.715},{"t":"2021-11-14 04","p":1.710},{"t":"2021-11-14 08","p":1.729},{"t":"2021-11-14 12","p":1.722},{"t":"2021-11-14 16","p":1.729},{"t":"2021-11-14 19","p":1.755},{"t":"2021-11-14 23","p":1.729},
{"t":"2021-11-15 03","p":1.721},{"t":"2021-11-15 07","p":1.696},{"t":"2021-11-15 11","p":1.595},{"t":"2021-11-15 16","p":1.595},{"t":"2021-11-15 20","p":1.555},
{"t":"2021-11-16 00","p":1.604},{"t":"2021-11-16 03","p":1.580},{"t":"2021-11-16 07","p":1.565},{"t":"2021-11-16 11","p":1.512},{"t":"2021-11-16 15","p":1.533},{"t":"2021-11-16 19","p":1.582},{"t":"2021-11-16 23","p":1.582},
{"t":"2021-11-17 03","p":1.626},{"t":"2021-11-17 08","p":1.635},{"t":"2021-11-17 11","p":1.653},{"t":"2021-11-17 15","p":1.592},{"t":"2021-11-17 19","p":1.561},{"t":"2021-11-17 23","p":1.504},
{"t":"2021-11-18 03","p":1.516},{"t":"2021-11-18 07","p":1.504},{"t":"2021-11-18 12","p":1.492},{"t":"2021-11-18 16","p":1.531},{"t":"2021-11-18 20","p":1.570},{"t":"2021-11-18 23","p":1.610},
{"t":"2021-11-19 03","p":1.607},{"t":"2021-11-19 07","p":1.617},{"t":"2021-11-19 11","p":1.610},{"t":"2021-11-19 15","p":1.610},{"t":"2021-11-19 19","p":1.631},{"t":"2021-11-19 23","p":1.574},
{"t":"2021-11-20 03","p":1.629},{"t":"2021-11-20 07","p":1.672},{"t":"2021-11-20 11","p":1.619},{"t":"2021-11-20 15","p":1.639},{"t":"2021-11-20 19","p":1.617},{"t":"2021-11-20 23","p":1.647},
{"t":"2021-11-21 03","p":1.629},{"t":"2021-11-21 07","p":1.604},{"t":"2021-11-21 11","p":1.555},{"t":"2021-11-21 16","p":1.555},{"t":"2021-11-21 22","p":1.565},
{"t":"2021-11-22 03","p":1.546},{"t":"2021-11-22 08","p":1.562},{"t":"2021-11-22 12","p":1.582},{"t":"2021-11-22 16","p":1.558},{"t":"2021-11-22 20","p":1.580},
{"t":"2021-11-23 00","p":1.647},{"t":"2021-11-23 03","p":1.702},{"t":"2021-11-23 07","p":1.742},{"t":"2021-11-23 11","p":1.693},{"t":"2021-11-23 15","p":1.770},{"t":"2021-11-23 19","p":1.751},{"t":"2021-11-23 23","p":1.727},
{"t":"2021-11-24 03","p":1.666},{"t":"2021-11-24 07","p":1.688},{"t":"2021-11-24 11","p":1.798},{"t":"2021-11-24 15","p":1.800},{"t":"2021-11-24 19","p":1.794},{"t":"2021-11-24 22","p":1.872},
{"t":"2021-11-25 02","p":1.880},{"t":"2021-11-25 07","p":1.925},{"t":"2021-11-25 11","p":1.862},{"t":"2021-11-25 15","p":1.786},{"t":"2021-11-25 19","p":1.614},{"t":"2021-11-25 22","p":1.693},
{"t":"2021-11-26 03","p":1.653},{"t":"2021-11-26 07","p":1.635},{"t":"2021-11-26 11","p":1.715},{"t":"2021-11-26 15","p":1.680},{"t":"2021-11-26 19","p":1.683},{"t":"2021-11-26 23","p":1.678},
{"t":"2021-11-27 03","p":1.647},{"t":"2021-11-27 07","p":1.614},{"t":"2021-11-27 11","p":1.543},{"t":"2021-11-27 15","p":1.592},{"t":"2021-11-27 19","p":1.586},
{"t":"2021-11-28 01","p":1.580},{"t":"2021-11-28 05","p":1.576},{"t":"2021-11-28 09","p":1.653},{"t":"2021-11-28 13","p":1.641},{"t":"2021-11-28 17","p":1.684},{"t":"2021-11-28 21","p":1.676},
{"t":"2021-11-29 00","p":1.700},{"t":"2021-11-29 04","p":1.727},{"t":"2021-11-29 08","p":1.815},{"t":"2021-11-29 12","p":1.776},{"t":"2021-11-29 16","p":1.729},{"t":"2021-11-29 20","p":1.758},
{"t":"2021-11-30 00","p":1.800},{"t":"2021-11-30 04","p":1.813},{"t":"2021-11-30 08","p":1.770},{"t":"2021-11-30 12","p":1.896},{"t":"2021-11-30 17","p":1.938},{"t":"2021-11-30 21","p":1.966},
{"t":"2021-12-01 00","p":2.060},{"t":"2021-12-01 04","p":2.009},{"t":"2021-12-01 08","p":2.009},{"t":"2021-12-01 12","p":2.070},{"t":"2021-12-01 16","p":2.129},{"t":"2021-12-01 20","p":2.046},
{"t":"2021-12-02 00","p":2.052},{"t":"2021-12-02 04","p":2.101},{"t":"2021-12-02 08","p":2.131},{"t":"2021-12-02 12","p":2.095},{"t":"2021-12-02 16","p":2.248},{"t":"2021-12-02 20","p":2.315},
{"t":"2021-12-03 00","p":2.278},{"t":"2021-12-03 04","p":2.202},{"t":"2021-12-03 07","p":2.266},{"t":"2021-12-03 11","p":2.027},{"t":"2021-12-03 15","p":1.892},{"t":"2021-12-03 20","p":1.782},
{"t":"2021-12-04 00","p":1.947},{"t":"2021-12-04 04","p":2.033},{"t":"2021-12-04 08","p":1.984},{"t":"2021-12-04 12","p":1.938},{"t":"2021-12-04 16","p":1.966},{"t":"2021-12-04 20","p":2.162},
{"t":"2021-12-05 00","p":2.009},{"t":"2021-12-05 04","p":2.021},{"t":"2021-12-05 08","p":2.060},{"t":"2021-12-05 12","p":1.923},{"t":"2021-12-05 16","p":1.819},{"t":"2021-12-05 20","p":1.831},
{"t":"2021-12-06 00","p":1.923},{"t":"2021-12-06 04","p":2.180},{"t":"2021-12-06 08","p":2.281},{"t":"2021-12-06 12","p":2.309},{"t":"2021-12-06 16","p":2.370},{"t":"2021-12-06 19","p":2.333},{"t":"2021-12-06 23","p":2.447},
{"t":"2021-12-07 03","p":2.391},{"t":"2021-12-07 07","p":2.370},{"t":"2021-12-07 11","p":2.239},{"t":"2021-12-07 15","p":2.403},{"t":"2021-12-07 19","p":2.370},{"t":"2021-12-07 23","p":2.511},
{"t":"2021-12-08 03","p":2.465},{"t":"2021-12-08 08","p":2.415},{"t":"2021-12-08 11","p":2.340},{"t":"2021-12-08 15","p":2.352},{"t":"2021-12-08 20","p":2.303},
{"t":"2021-12-09 00","p":2.205},{"t":"2021-12-09 04","p":2.121},{"t":"2021-12-09 08","p":2.082},{"t":"2021-12-09 11","p":2.219},{"t":"2021-12-09 15","p":2.055},{"t":"2021-12-09 19","p":2.180},{"t":"2021-12-09 23","p":2.125},
{"t":"2021-12-10 03","p":2.205},{"t":"2021-12-10 07","p":2.097},{"t":"2021-12-10 11","p":2.101},{"t":"2021-12-10 15","p":2.095},{"t":"2021-12-10 20","p":2.070},
{"t":"2021-12-11 00","p":2.131},{"t":"2021-12-11 04","p":2.070},{"t":"2021-12-11 08","p":2.141},{"t":"2021-12-11 12","p":2.107},{"t":"2021-12-11 17","p":2.076},{"t":"2021-12-11 22","p":2.052},
{"t":"2021-12-12 02","p":2.043},{"t":"2021-12-12 05","p":2.129},{"t":"2021-12-12 09","p":2.095},{"t":"2021-12-12 13","p":2.021},{"t":"2021-12-12 17","p":1.935},{"t":"2021-12-12 20","p":1.950},{"t":"2021-12-12 23","p":1.805},
{"t":"2021-12-13 05","p":1.815},{"t":"2021-12-13 12","p":1.831},{"t":"2021-12-13 16","p":1.810},{"t":"2021-12-13 20","p":1.843},
{"t":"2021-12-14 00","p":1.847},{"t":"2021-12-14 04","p":1.815},{"t":"2021-12-14 07","p":1.947},{"t":"2021-12-14 11","p":2.021},{"t":"2021-12-14 15","p":1.974},{"t":"2021-12-14 20","p":1.999},{"t":"2021-12-14 23","p":1.847},
{"t":"2021-12-15 03","p":2.070},{"t":"2021-12-15 07","p":2.125},{"t":"2021-12-15 12","p":2.136},{"t":"2021-12-15 15","p":2.121},{"t":"2021-12-15 19","p":2.186},{"t":"2021-12-15 23","p":2.162},
{"t":"2021-12-16 04","p":2.107},{"t":"2021-12-16 09","p":2.064},{"t":"2021-12-16 13","p":2.104},{"t":"2021-12-16 17","p":2.046},{"t":"2021-12-16 21","p":2.027},
{"t":"2021-12-17 01","p":2.039},{"t":"2021-12-17 05","p":2.119},{"t":"2021-12-17 10","p":2.131},{"t":"2021-12-17 13","p":2.137},{"t":"2021-12-17 16","p":2.199},{"t":"2021-12-17 21","p":2.207},
{"t":"2021-12-18 00","p":2.229},{"t":"2021-12-18 04","p":2.199},{"t":"2021-12-18 07","p":2.232},{"t":"2021-12-18 11","p":2.236},{"t":"2021-12-18 17","p":2.241},{"t":"2021-12-18 21","p":2.219},
{"t":"2021-12-19 01","p":2.199},{"t":"2021-12-19 04","p":2.265},{"t":"2021-12-19 08","p":2.219},{"t":"2021-12-19 12","p":2.146},{"t":"2021-12-19 16","p":2.107},{"t":"2021-12-19 21","p":2.097},
{"t":"2021-12-20 00","p":2.107},{"t":"2021-12-20 04","p":2.180},{"t":"2021-12-20 08","p":2.109},{"t":"2021-12-20 12","p":2.194},{"t":"2021-12-20 16","p":2.269}
    ]},
    "encoding": {
      "y": {
        "field": "p", "type": "quantitative",
        "scale": {"domain": [0.656, 2.538], "nice": false, "zero": false},
        "axis": {
          "orient": "right", "offset": 100,
          "values": [0.656, 0.891, 1.126, 1.361, 1.597, 1.832, 2.067, 2.302, 2.538],
          "format": ".3f",
          "grid": false,
          "domainColor": "#26c953", "domainWidth": 2,
          "labelPadding": 12, "labelAlign": "left", "labelBaseline": "middle"
        }
      }
    },
    "layer": [
      {
        "mark": {"type": "line", "strokeWidth": 3, "strokeJoin": "round"},
        "encoding": {"color": {"datum": "Price (MATIC)", "type": "nominal"}}
      },
      {
        "transform": [{"filter": "datum.t >= datetime(2021, 11, 20, 16)"}],
        "mark": {"type": "rect", "color": "#26c953", "xOffset": 156, "x2Offset": 218, "yOffset": -13, "y2Offset": 13},
        "encoding": {"x2": {"field": "t"}, "y2": {"field": "p"}}
      },
      {
        "transform": [{"filter": "datum.t >= datetime(2021, 11, 20, 16)"}, {"calculate": "format(datum.p, '.3f')", "as": "lab"}],
        "mark": {"type": "text", "dx": 187, "color": "#ffffff", "font": "Liberation Sans", "fontSize": 20, "align": "center", "baseline": "middle"},
        "encoding": {"text": {"field": "lab"}}
      }
    ]
  }
],
"resolve": {"scale": {"y": "independent"}}
}
